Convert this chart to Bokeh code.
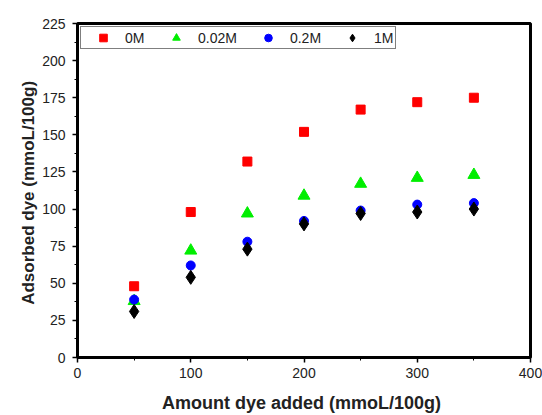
from bokeh.plotting import figure
from bokeh.models import SingleIntervalTicker, Range1d, Legend, LegendItem, Title
from bokeh.embed import file_html
from bokeh.resources import INLINE

x_vals = [50, 100, 150, 200, 250, 300, 350]
y_0M = [48, 98, 132, 152, 167, 172, 175]
y_002M = [38, 72, 97, 109, 117, 121, 123]
y_02M = [39, 62, 78, 92, 99, 103, 104]
y_1M = [31, 54, 73, 90, 97, 98, 100]
series_names = ["0M", "0.02M", "0.2M", "1M"]

p = figure(width=542, height=415, output_backend="svg", toolbar_location=None,
           x_range=Range1d(0, 400), y_range=Range1d(0, 225),
           min_border_left=77, min_border_right=12, min_border_top=23, min_border_bottom=58)
p.grid.visible = False
p.background_fill_color = "white"
p.border_fill_color = "white"
p.outline_line_color = "black"
p.outline_line_width = 3

p.xaxis.ticker = SingleIntervalTicker(interval=100, num_minor_ticks=2)
p.yaxis.ticker = SingleIntervalTicker(interval=25, num_minor_ticks=2)
for ax in (p.xaxis, p.yaxis):
    ax.axis_line_width = 3
    ax.axis_line_color = "black"
    ax.major_tick_in = 0
    ax.major_tick_out = 5
    ax.minor_tick_in = 0
    ax.minor_tick_out = 3
    ax.major_tick_line_width = 1.5
    ax.minor_tick_line_width = 1
    ax.major_label_text_font = "Liberation Sans"
    ax.major_label_text_font_size = "14px"
    ax.major_label_text_color = "#222222"
    ax.axis_label_text_font = "Liberation Sans"
    ax.axis_label_text_font_size = "18px"
    ax.axis_label_text_font_style = "bold"
    ax.axis_label_text_color = "#222222"

p.xaxis.axis_label = "Amount dye  added (mmoL/100g)"
p.xaxis.axis_label_standoff = 12
p.xaxis.major_label_standoff = 5
p.yaxis.major_label_standoff = 7

ytitle = Title(text="Adsorbed dye  (mmoL/100g)", align="center", offset=-28,
               text_font="Liberation Sans", text_font_size="17px",
               text_font_style="bold", text_color="#222222", standoff=3)
p.add_layout(ytitle, "left")

r1 = p.scatter(x_vals, y_0M, marker="square", size=9, color="#ff0000")
r2 = p.scatter(x_vals, y_002M, marker="triangle", size=12, color="#00ee00")
r3 = p.scatter(x_vals, y_02M, marker="circle", size=9, color="#0000ff")
r4 = p.scatter(x_vals, y_1M, marker="diamond", size=14, color="#000000")

legend = Legend(items=[LegendItem(label=n, renderers=[r]) for n, r in zip(series_names, [r1, r2, r3, r4])],
                orientation="horizontal", location="top_left")
legend.label_text_font = "Liberation Sans"
legend.label_text_font_size = "14px"
legend.label_text_color = "#222222"
legend.border_line_color = "black"
legend.border_line_width = 1
legend.glyph_width = 42
legend.glyph_height = 19
legend.label_standoff = 1
legend.spacing = 10
legend.padding = 1
legend.margin = 3
legend.label_height = 19
p.add_layout(legend)

open("out.html", "w").write(file_html(p, INLINE))
